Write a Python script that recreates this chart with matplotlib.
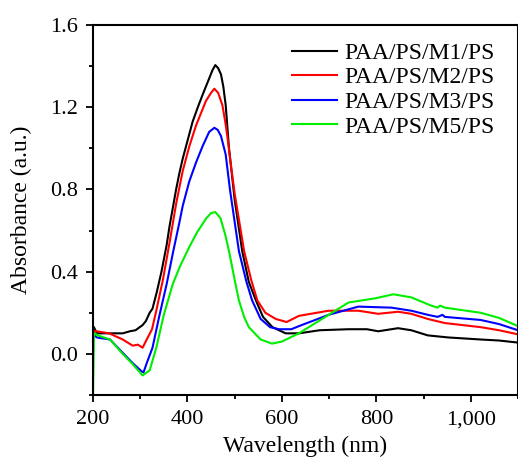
import numpy as np
import matplotlib
matplotlib.use("Agg")
import matplotlib.pyplot as plt
from matplotlib.ticker import MultipleLocator, FuncFormatter

plt.rcParams['font.family'] = ['Liberation Serif', 'DejaVu Serif']

# --- data (wavelength nm, absorbance a.u.) ---
wl_m1 = [200, 202, 208, 235, 263, 278, 290, 299, 305, 312, 320, 326, 335, 345, 356,
         362, 369, 376, 383, 390, 397, 404, 411, 422, 432, 446, 453, 459, 465, 471,
         476, 481, 488, 500, 516, 530, 545, 560, 580, 608, 636, 680, 741, 780, 804,
         846, 874, 909, 952, 1021, 1060, 1100]
abs_m1 = [0.13, 0.13, 0.10, 0.10, 0.10, 0.11, 0.115, 0.13, 0.14, 0.16, 0.2, 0.22, 0.3, 0.4, 0.53,
          0.62, 0.71, 0.80, 0.88, 0.95, 1.01, 1.07, 1.13, 1.2, 1.26, 1.34, 1.38, 1.405, 1.39, 1.36,
          1.3, 1.21, 1.0, 0.75, 0.5, 0.35, 0.26, 0.18, 0.13, 0.10, 0.10, 0.115, 0.12, 0.12, 0.11,
          0.125, 0.115, 0.09, 0.08, 0.07, 0.065, 0.055]

wl_m2 = [200, 203, 208, 234, 263, 284, 295, 305, 316, 325, 334, 348, 362, 376, 390,
         404, 418, 439, 450, 457, 465, 474, 480, 485, 492, 500, 520, 535, 548, 565,
         587, 610, 636, 699, 762, 804, 846, 874, 909, 945, 1021, 1060, 1100]
abs_m2 = [0.10, 0.11, 0.11, 0.10, 0.07, 0.04, 0.045, 0.03, 0.08, 0.12, 0.21, 0.36, 0.54, 0.73, 0.89,
          1.01, 1.11, 1.23, 1.27, 1.29, 1.27, 1.21, 1.13, 1.05, 0.92, 0.78, 0.5, 0.36, 0.26, 0.2,
          0.17, 0.155, 0.185, 0.21, 0.21, 0.195, 0.205, 0.195, 0.17, 0.15, 0.13, 0.115, 0.095]

wl_m3 = [200, 203, 208, 236, 263, 284, 303, 307, 313, 326, 340, 356, 370, 383, 390,
         404, 418, 432, 446, 457, 464, 471, 481, 490, 509, 525, 537, 555, 575, 594,
         620, 636, 699, 762, 832, 874, 909, 930, 940, 945, 1021, 1060, 1100]
abs_m3 = [0.08, 0.09, 0.08, 0.07, 0.005, -0.045, -0.085, -0.09, -0.05, 0.03, 0.18, 0.34, 0.5, 0.64, 0.72,
          0.84, 0.93, 1.01, 1.08, 1.10, 1.09, 1.06, 0.97, 0.8, 0.5, 0.35, 0.26, 0.17, 0.13, 0.12,
          0.12, 0.135, 0.19, 0.23, 0.225, 0.21, 0.19, 0.18, 0.19, 0.18, 0.165, 0.145, 0.115]

wl_m5 = [200, 202, 204, 210, 236, 263, 284, 305, 320, 334, 350, 369, 385, 404, 420,
         440, 450, 459, 470, 480, 488, 500, 509, 520, 530, 555, 579, 600, 636, 699,
         741, 797, 836, 874, 916, 930, 935, 945, 1021, 1060, 1100]
abs_m5 = [-0.2, 0.09, 0.10, 0.09, 0.07, 0.0, -0.05, -0.105, -0.08, 0.03, 0.19, 0.34, 0.43, 0.52, 0.59,
          0.66, 0.685, 0.69, 0.66, 0.58, 0.5, 0.36, 0.26, 0.18, 0.13, 0.07, 0.05, 0.06, 0.1, 0.19,
          0.25, 0.27, 0.29, 0.275, 0.235, 0.225, 0.235, 0.225, 0.2, 0.175, 0.135]

labels = ['PAA/PS/M1/PS', 'PAA/PS/M2/PS', 'PAA/PS/M3/PS', 'PAA/PS/M5/PS']
colors = ['black', 'red', 'blue', '#00ee00']

fig = plt.figure(figsize=(5.18, 4.58), dpi=100)
ax = fig.add_axes([93/518, 1 - 395/458, 1 - 93/518, (395 - 25)/458])

for wl, a, lab, c in zip([wl_m1, wl_m2, wl_m3, wl_m5], [abs_m1, abs_m2, abs_m3, abs_m5],
                         labels, colors):
    ax.plot(wl, a, color=c, lw=1.5, label=lab)

ax.set_xlim(200, 1100)
ax.set_ylim(-0.2, 1.6)
ax.xaxis.set_major_locator(MultipleLocator(200))
ax.xaxis.set_minor_locator(MultipleLocator(100))
ax.yaxis.set_major_locator(MultipleLocator(0.4))
ax.yaxis.set_minor_locator(MultipleLocator(0.2))
ax.xaxis.set_major_formatter(FuncFormatter(lambda v, p: f"{int(v):,}"))
ax.yaxis.set_major_formatter(FuncFormatter(lambda v, p: f"{v:.1f}"))

ax.tick_params(which='both', direction='out', top=False, right=False, width=1.3, labelsize=16)
ax.tick_params(which='major', length=5, pad=6)
ax.tick_params(which='minor', length=3)
for s in ax.spines.values():
    s.set_linewidth(1.5)

ax.set_xlabel('Wavelength (nm)', fontsize=17, labelpad=5)
ax.set_ylabel('Absorbance (a.u.)', fontsize=17, labelpad=13)

ax.legend(loc='upper left', bbox_to_anchor=(0.441, 0.985), frameon=False, fontsize=17,
          handlelength=1.9, handletextpad=0.3, labelspacing=0.13, borderpad=0)

fig.savefig('out.png', dpi=100)
